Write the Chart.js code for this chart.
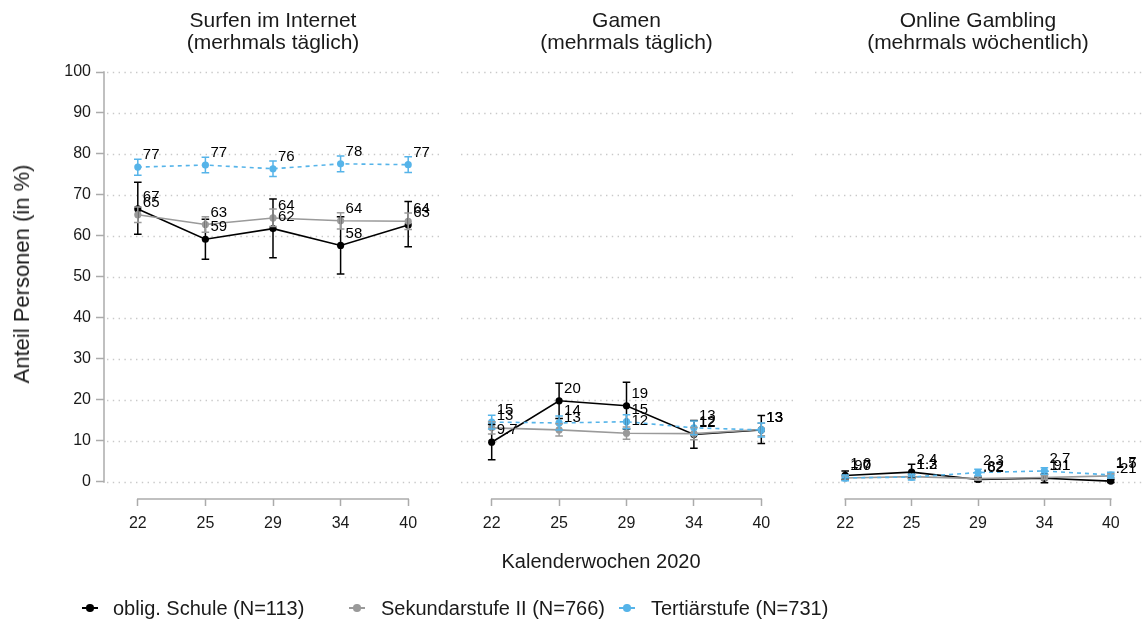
<!DOCTYPE html>
<html><head><meta charset="utf-8">
<script src="https://cdn.jsdelivr.net/npm/chart.js@4.4.0/dist/chart.umd.min.js"></script>
<style>
html,body{margin:0;padding:0;background:#fff;}
body{width:1148px;height:620px;position:relative;overflow:hidden;font-family:"Liberation Sans",Arial,sans-serif;color:#1a1a1a;}
canvas{position:absolute;top:0;}
.t{position:absolute;transform:translateX(-50%);text-align:center;font-size:21px;line-height:22px;white-space:nowrap;top:9px;}
.ytitle{position:absolute;left:22px;top:274px;transform:translate(-50%,-50%) rotate(-90deg);font-size:22px;white-space:nowrap;}
.xtitle{position:absolute;left:601px;top:561px;transform:translate(-50%,-50%);font-size:20px;white-space:nowrap;}
.lgt{position:absolute;top:597px;font-size:20px;line-height:22px;white-space:nowrap;}
.lgl{position:absolute;top:607px;width:16px;height:1.6px;}
.lgd{position:absolute;top:604px;width:7.5px;height:7.5px;border-radius:50%;}
</style></head><body>
<canvas id="c0" width="450" height="620" style="left:0px;width:450px;height:620px"></canvas>
<canvas id="c1" width="350" height="620" style="left:450px;width:350px;height:620px"></canvas>
<canvas id="c2" width="348" height="620" style="left:800px;width:348px;height:620px"></canvas>
<div id="titles"></div>
<div class="ytitle">Anteil Personen (in %)</div>
<div class="xtitle">Kalenderwochen 2020</div>
<div id="legend"></div>
<script>
// ---------- data ----------
const weeks = ['22', '25', '29', '34', '40'];
const yTicks = [0, 10, 20, 30, 40, 50, 60, 70, 80, 90, 100];
const seriesNames = ['oblig. Schule (N=113)', 'Sekundarstufe II (N=766)', 'Tertiärstufe (N=731)'];
const seriesColors = ['#000000', '#9a9a9a', '#56B4E9'];
const panelTitles = [['Surfen im Internet', '(merhmals täglich)'], ['Gamen', '(mehrmals täglich)'], ['Online Gambling', '(mehrmals wöchentlich)']];

// Surfen im Internet
const surfSchule   = [66.6, 59.2, 61.8, 57.7, 62.7];
const surfSchuleLo = [60.4, 54.3, 54.7, 50.7, 57.4];
const surfSchuleHi = [73.1, 64.1, 69.0, 64.7, 68.4];
const surfSek      = [65.2, 62.8, 64.4, 63.7, 63.6];
const surfSekLo    = [63.3, 60.9, 62.3, 61.7, 61.6];
const surfSekHi    = [67.1, 64.7, 66.6, 65.7, 65.6];
const surfTert     = [76.8, 77.3, 76.4, 77.6, 77.4];
const surfTertLo   = [74.8, 75.4, 74.5, 75.7, 75.5];
const surfTertHi   = [78.7, 79.2, 78.3, 79.5, 79.3];

// Gamen
const gameSchule   = [9.7, 19.8, 18.6, 11.6, 12.7];
const gameSchuleLo = [5.4, 15.5, 12.9, 8.2, 9.4];
const gameSchuleHi = [14.0, 24.1, 24.3, 15.0, 16.2];
const gameSek      = [13.2, 12.7, 11.9, 11.8, 12.8];
const gameSekLo    = [11.7, 11.2, 10.4, 10.3, 11.3];
const gameSekHi    = [14.7, 14.2, 13.4, 13.3, 14.3];
const gameTert     = [14.6, 14.4, 14.7, 13.2, 12.7];
const gameTertLo   = [12.9, 12.7, 13.0, 11.5, 11.0];
const gameTertHi   = [16.3, 16.1, 16.4, 14.9, 14.4];

// Online Gambling
const gambSchule   = [1.6, 2.4, 0.62, 0.91, 0.21];
const gambSchuleLo = [0.6, 0.9, 0.1, -0.2, -0.1];
const gambSchuleHi = [2.7, 4.3, 1.2, 1.9, 0.6];
const gambSek      = [0.97, 1.3, 0.82, 1.1, 1.5];
const gambSekLo    = [0.5, 0.8, 0.4, 0.6, 1.0];
const gambSekHi    = [1.5, 1.8, 1.3, 1.6, 2.0];
const gambTert     = [1.0, 1.2, 2.3, 2.7, 1.7];
const gambTertLo   = [0.3, 0.5, 1.5, 1.9, 1.0];
const gambTertHi   = [1.7, 1.9, 3.1, 3.5, 2.4];

// ---------- helpers ----------
const FONT = '"Liberation Sans", Arial, sans-serif';
function fmt(v) {
  if (v >= 10) return String(Math.round(v));
  if (v >= 1) return v.toFixed(1);
  return v.toFixed(2).replace(/^0/, '');
}

const facetPlugin = {
  id: 'facet',
  beforeDatasetsDraw(chart) {
    const ctx = chart.ctx, a = chart.chartArea, x = chart.scales.x, y = chart.scales.y;
    ctx.save();
    ctx.strokeStyle = '#c9c9c9';
    ctx.lineWidth = 1.3;
    ctx.setLineDash([1.4, 4.4]);
    yTicks.forEach(v => {
      const py = Math.round(y.getPixelForValue(v)) + 0.5;
      ctx.beginPath(); ctx.moveTo(a.left + 3, py); ctx.lineTo(a.right, py); ctx.stroke();
    });
    ctx.setLineDash([]);
    ctx.strokeStyle = '#ababab';
    ctx.lineWidth = 1.5;
    const x0 = x.getPixelForValue(0), x1 = x.getPixelForValue(weeks.length - 1);
    ctx.beginPath(); ctx.moveTo(x0 - 0.75, a.bottom); ctx.lineTo(x1 + 0.75, a.bottom); ctx.stroke();
    if (chart.options.scales.y.display) {
      ctx.beginPath();
      ctx.moveTo(a.left, y.getPixelForValue(yTicks[0]) + 0.75);
      ctx.lineTo(a.left, y.getPixelForValue(yTicks[yTicks.length - 1]) - 0.75);
      ctx.stroke();
    }
    ctx.restore();
  },
  afterDatasetsDraw(chart) {
    const ctx = chart.ctx, x = chart.scales.x, y = chart.scales.y;
    const ci = chart.options.plugins.facet.ci;
    ctx.save();
    // error bars
    chart.data.datasets.forEach((ds, di) => {
      ctx.strokeStyle = ds.borderColor;
      ctx.lineWidth = 1.5;
      ds.data.forEach((v, i) => {
        const px = x.getPixelForValue(i);
        const pl = y.getPixelForValue(ci[di][0][i]);
        const ph = y.getPixelForValue(ci[di][1][i]);
        ctx.beginPath();
        ctx.moveTo(px, pl); ctx.lineTo(px, ph);
        ctx.moveTo(px - 3.8, pl); ctx.lineTo(px + 3.8, pl);
        ctx.moveTo(px - 3.8, ph); ctx.lineTo(px + 3.8, ph);
        ctx.stroke();
      });
    });
    // value labels
    ctx.fillStyle = '#000';
    ctx.font = '15px ' + FONT;
    ctx.textAlign = 'left';
    ctx.textBaseline = 'middle';
    chart.data.datasets.forEach(ds => {
      ds.data.forEach((v, i) => {
        ctx.fillText(fmt(v), x.getPixelForValue(i) + 5, y.getPixelForValue(v) - 12);
      });
    });
    ctx.restore();
  }
};

function makeDatasets(vals) {
  return vals.map((d, k) => ({
    label: seriesNames[k],
    data: d,
    borderColor: seriesColors[k],
    backgroundColor: seriesColors[k],
    borderWidth: 1.6,
    borderDash: k === 2 ? [4, 4] : [],
    pointRadius: 3.6,
    pointBorderWidth: 0,
    pointBackgroundColor: seriesColors[k],
    tension: 0,
    order: 2 - k
  }));
}

const panels = [
  { id: 'c0', vals: [surfSchule, surfSek, surfTert],
    ci: [[surfSchuleLo, surfSchuleHi], [surfSekLo, surfSekHi], [surfTertLo, surfTertHi]],
    pad: { left: 0, right: 8, top: 72, bottom: 0 }, showY: true },
  { id: 'c1', vals: [gameSchule, gameSek, gameTert],
    ci: [[gameSchuleLo, gameSchuleHi], [gameSekLo, gameSekHi], [gameTertLo, gameTertHi]],
    pad: { left: 8, right: 5, top: 72, bottom: 0 }, showY: false },
  { id: 'c2', vals: [gambSchule, gambSek, gambTert],
    ci: [[gambSchuleLo, gambSchuleHi], [gambSekLo, gambSekHi], [gambTertLo, gambTertHi]],
    pad: { left: 12, right: 0, top: 72, bottom: 0 }, showY: false }
];

const charts = panels.map(p => new Chart(document.getElementById(p.id), {
  type: 'line',
  data: { labels: weeks, datasets: makeDatasets(p.vals) },
  options: {
    responsive: false,
    animation: false,
    layout: { padding: p.pad },
    plugins: { legend: { display: false }, tooltip: { enabled: false }, facet: { ci: p.ci } },
    scales: {
      x: {
        type: 'category', offset: true,
        border: { display: false },
        grid: { display: true, drawOnChartArea: false, drawTicks: true, tickLength: 7, tickColor: '#ababab', tickWidth: 1.5, color: '#ababab' },
        ticks: { font: { size: 16, family: FONT }, color: '#1a1a1a', padding: 8, maxRotation: 0, autoSkip: false },
        afterFit: s => { s.height = 121; }
      },
      y: {
        display: p.showY,
        min: -4.15, max: 100,
        border: { display: false },
        grid: { display: true, drawOnChartArea: false, drawTicks: true, tickLength: 8, tickColor: '#ababab', tickWidth: 1.5, color: '#ababab' },
        ticks: { font: { size: 16, family: FONT }, color: '#1a1a1a', padding: 5 },
        afterBuildTicks: s => { s.ticks = yTicks.map(v => ({ value: v })); },
        afterFit: s => { s.width = p.showY ? 104 : 0; }
      }
    }
  },
  plugins: [facetPlugin]
}));

// panel titles (centred on each plot area)
const titleBox = document.getElementById('titles');
charts.forEach((c, i) => {
  const a = c.chartArea;
  const off = parseFloat(c.canvas.style.left);
  const d = document.createElement('div');
  d.className = 't';
  d.style.left = (off + (a.left + a.right) / 2) + 'px';
  d.innerHTML = panelTitles[i][0] + '<br>' + panelTitles[i][1];
  titleBox.appendChild(d);
});

// legend
const lg = document.getElementById('legend');
const markX = [90, 357, 627], textX = [113, 381, 651];
seriesNames.forEach((n, k) => {
  const l = document.createElement('div'); l.className = 'lgl';
  l.style.left = (markX[k] - 8) + 'px'; l.style.background = seriesColors[k];
  const dt = document.createElement('div'); dt.className = 'lgd';
  dt.style.left = (markX[k] - 3.75) + 'px'; dt.style.background = seriesColors[k];
  const t = document.createElement('div'); t.className = 'lgt';
  t.style.left = textX[k] + 'px'; t.textContent = n;
  lg.appendChild(l); lg.appendChild(dt); lg.appendChild(t);
});
</script>
</body></html>
